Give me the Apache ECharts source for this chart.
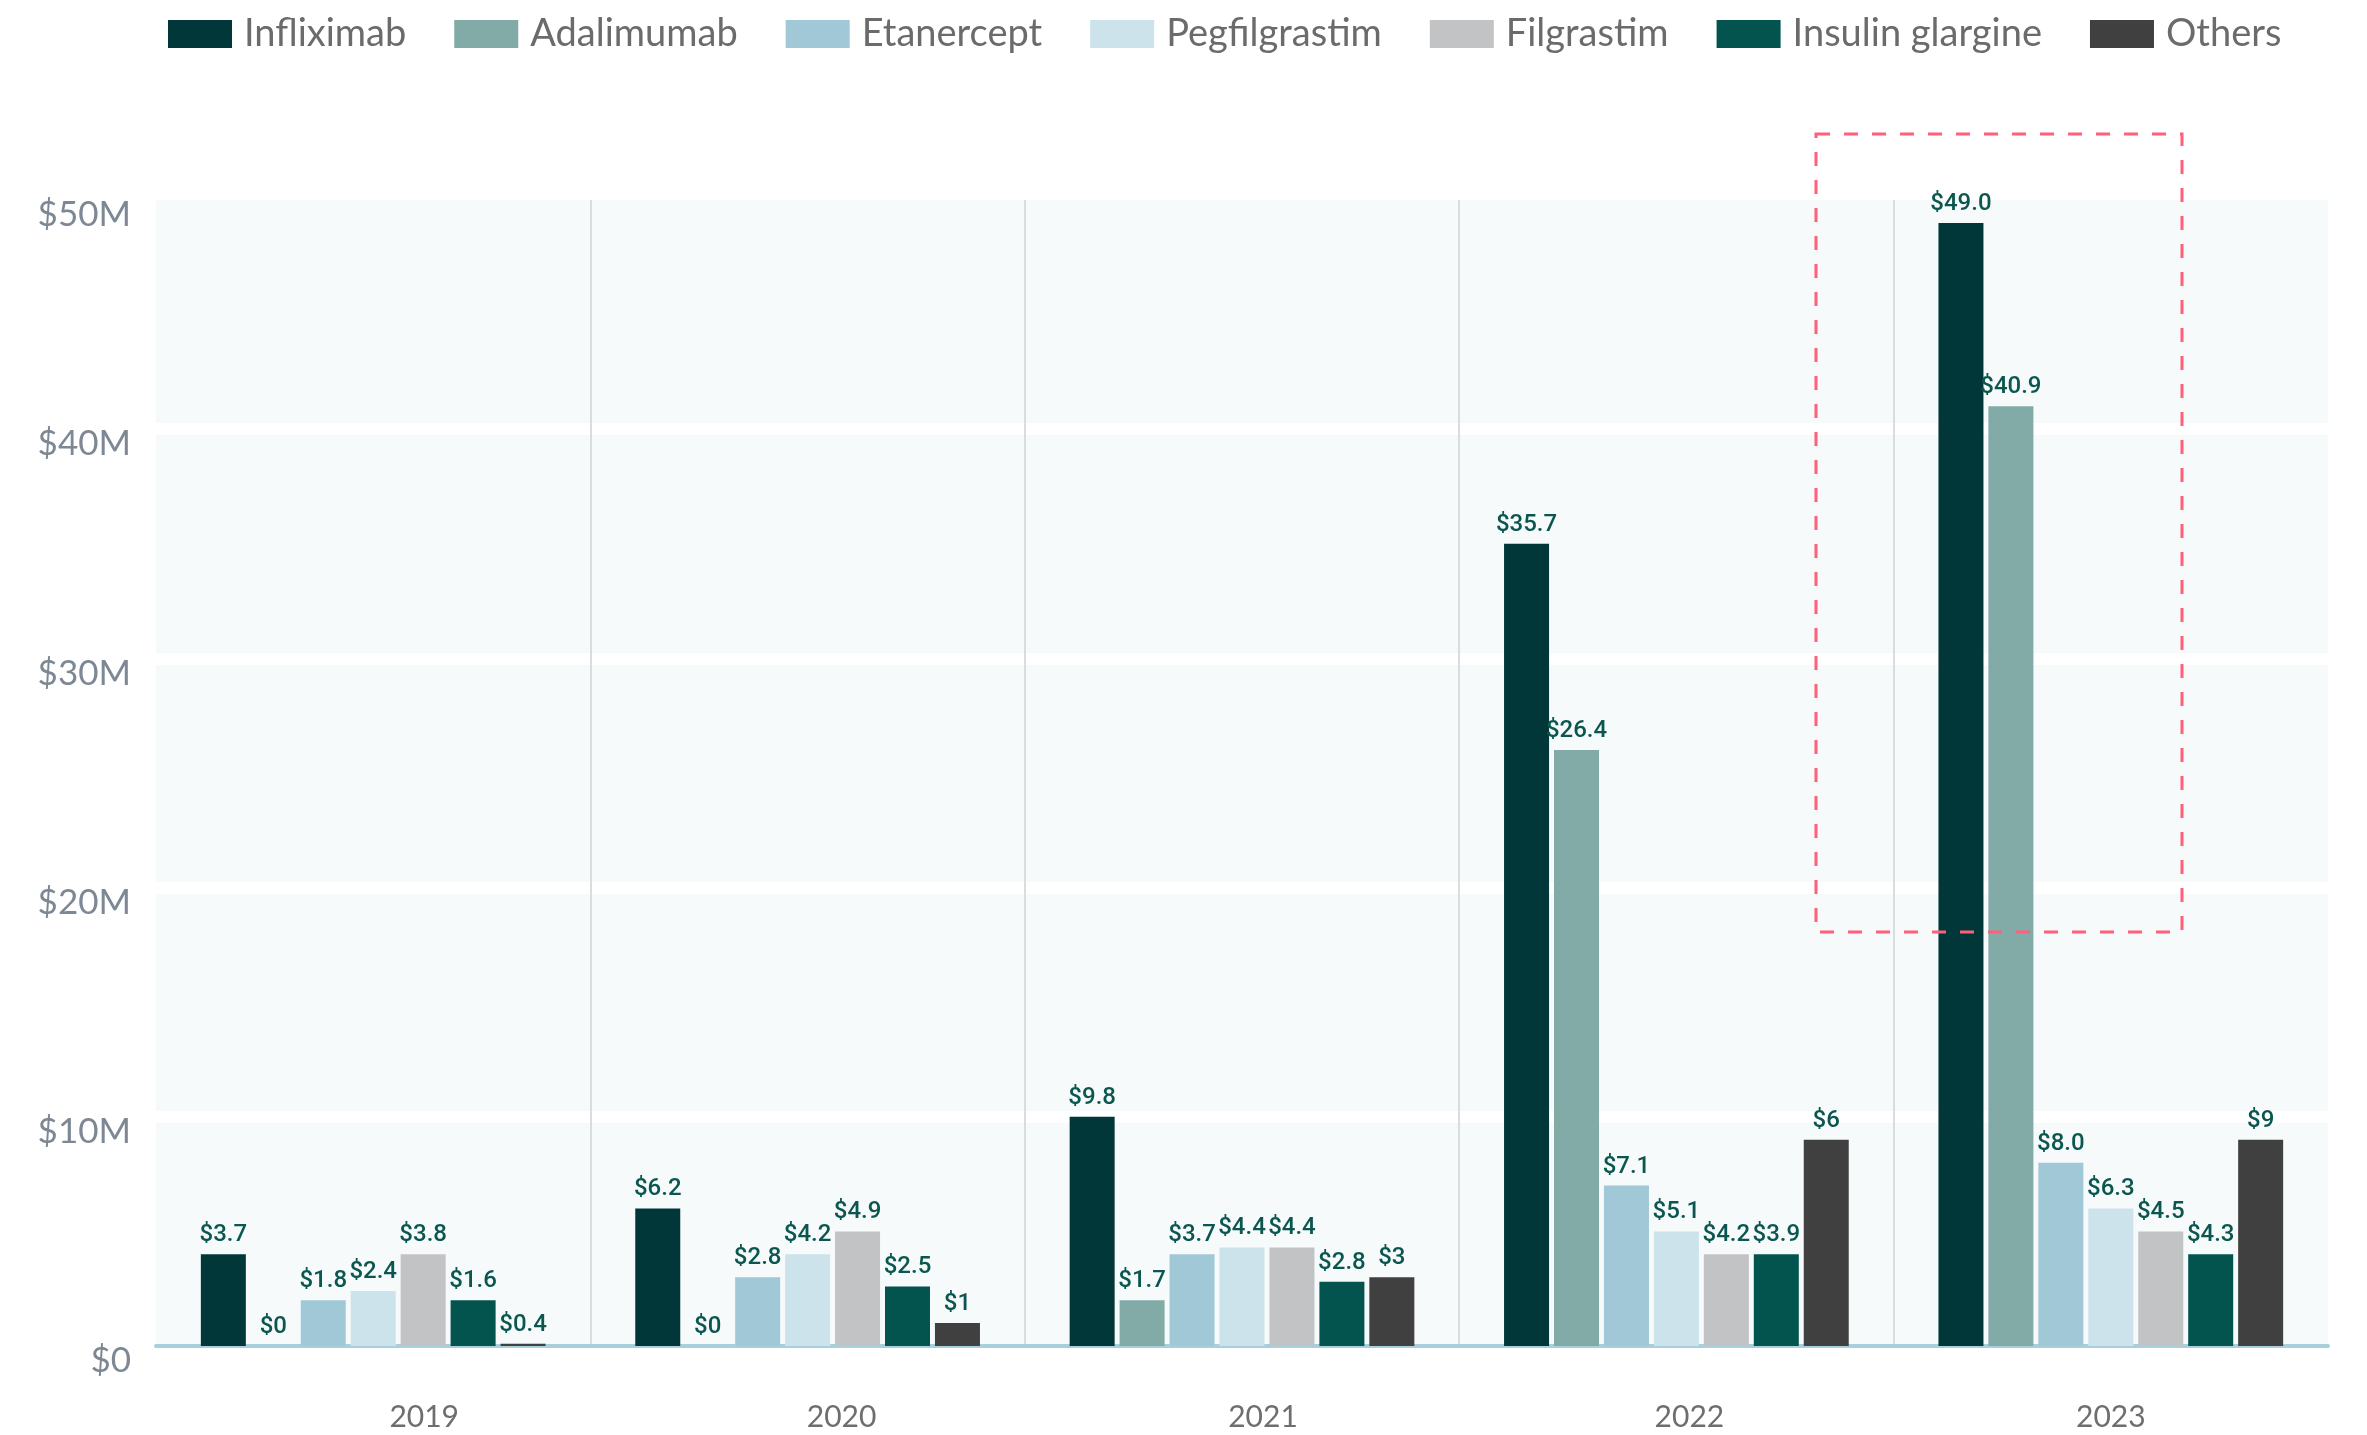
<!DOCTYPE html>
<html>
<head>
<meta charset="UTF-8">
<title>Biosimilar spend by molecule</title>
<script type="text/javascript" src="https://cdn.jsdelivr.net/npm/echarts@6/dist/echarts.min.js"></script>
<style>
  body{margin:0;background:#fff}
</style>
</head>
<body>

<div id="main" style="width:2367px;height:1435px"></div>
<script type="text/javascript">
	// years on the x axis
	var years = ['2019', '2020', '2021', '2022', '2023'];

	// bar heights as drawn ($M)
	var infliximab = [4.0, 6.0, 10.0, 35.0, 49.0];
	var adalimumab = [0, 0, 2.0, 26.0, 41.0];
	var etanercept = [2.0, 3.0, 4.0, 7.0, 8.0];
	var pegfilgrastim = [2.4, 4.0, 4.3, 5.0, 6.0];
	var filgrastim = [4.0, 5.0, 4.3, 4.0, 5.0];
	var insulinGlargine = [2.0, 2.6, 2.8, 4.0, 4.0];
	var others = [0.1, 1.0, 3.0, 9.0, 9.0];

	// value labels printed above the bars
	var infliximabLabels = ['3.7', '6.2', '9.8', '35.7', '49.0'];
	var adalimumabLabels = ['0', '0', '1.7', '26.4', '40.9'];
	var etanerceptLabels = ['1.8', '2.8', '3.7', '7.1', '8.0'];
	var pegfilgrastimLabels = ['2.4', '4.2', '4.4', '5.1', '6.3'];
	var filgrastimLabels = ['3.8', '4.9', '4.4', '4.2', '4.5'];
	var insulinLabels = ['1.6', '2.5', '2.8', '3.9', '4.3'];
	var othersLabels = ['0.4', '1', '3', '6', '9'];

	var yTicks = [0, 10, 20, 30, 40, 50];

	var myEcharts = echarts.init(document.getElementById('main'));

	function makeSeries(name, values, labels, color) {
		return {
			name: name,
			type: 'bar',
			data: values,
			barWidth: 45,
			barGap: '11%',
			itemStyle: { color: color },
			label: {
				show: true,
				position: 'top',
				distance: 7,
				color: '#0b5750',
				fontFamily: 'Roboto',
				fontWeight: 500,
				fontSize: 24,
				formatter: function (p) {
					return '$' + labels[p.dataIndex];
				}
			}
		};
	}

	// small shifts of the year labels, as in the original layout
	var yearPad = [102, 68, 42, 26, 0];
	var yearRich = {};
	yearPad.forEach(function (p, i) {
		yearRich['p' + i] = {
			fontFamily: 'Lato',
			fontSize: 30,
			color: '#6e6e6e',
			padding: [0, 0, 0, p]
		};
	});

	var option = {
		animation: false,
		textStyle: { fontFamily: 'Lato' },
		legend: {
			left: 163,
			top: 10,
			icon: 'rect',
			itemWidth: 64,
			itemHeight: 28,
			itemGap: 48,
			textStyle: {
				fontFamily: 'Lato',
				fontSize: 38,
				color: '#6b6b6b',
				padding: [0, 0, 0, 7]
			}
		},
		grid: {
			left: 156,
			right: 39,
			top: 200,
			bottom: 89,
			show: true,
			borderWidth: 0,
			backgroundColor: '#f6fafb'
		},
		xAxis: {
			type: 'category',
			data: years,
			z: 1,
			axisLine: { lineStyle: { color: '#a9cfdc', width: 4 } },
			axisTick: { show: false },
			splitLine: {
				show: true,
				showMinLine: false,
				showMaxLine: false,
				lineStyle: { color: '#d9dde0', width: 2 }
			},
			axisLabel: {
				margin: 56,
				formatter: function (v, i) {
					return '{p' + i + '|' + v + '}';
				},
				rich: yearRich
			}
		},
		yAxis: {
			type: 'value',
			min: yTicks[0],
			max: yTicks[yTicks.length - 1],
			interval: 10,
			z: 0,
			axisLine: { show: false },
			axisTick: { show: false },
			splitLine: {
				show: true,
				showMinLine: false,
				showMaxLine: false,
				lineStyle: { color: '#ffffff', width: 12 }
			},
			axisLabel: {
				margin: 25,
				fontFamily: 'Lato',
				fontSize: 35,
				color: '#7d8894',
				verticalAlign: 'top',
				lineHeight: 30,
				formatter: function (v) {
					return v === 0 ? '$0' : '$' + v + 'M';
				}
			}
		},
		series: [
			makeSeries('Infliximab', infliximab, infliximabLabels, '#02373a'),
			makeSeries('Adalimumab', adalimumab, adalimumabLabels, '#82aba8'),
			makeSeries('Etanercept', etanercept, etanerceptLabels, '#a0c8d7'),
			makeSeries('Pegfilgrastim', pegfilgrastim, pegfilgrastimLabels, '#cce3eb'),
			makeSeries('Filgrastim', filgrastim, filgrastimLabels, '#c2c3c5'),
			makeSeries('Insulin glargine', insulinGlargine, insulinLabels, '#03544f'),
			makeSeries('Others', others, othersLabels, '#404040')
		],
		// dashed highlight box around 2023 leaders
		graphic: [{
			type: 'rect',
			z: 100,
			shape: { x: 1816, y: 134, width: 366, height: 798 },
			style: {
				fill: 'none',
				stroke: '#ff5f78',
				lineWidth: 3,
				lineDash: [14, 14]
			}
		}]
	};
	myEcharts.setOption(option);
</script>
</body>
</html>
